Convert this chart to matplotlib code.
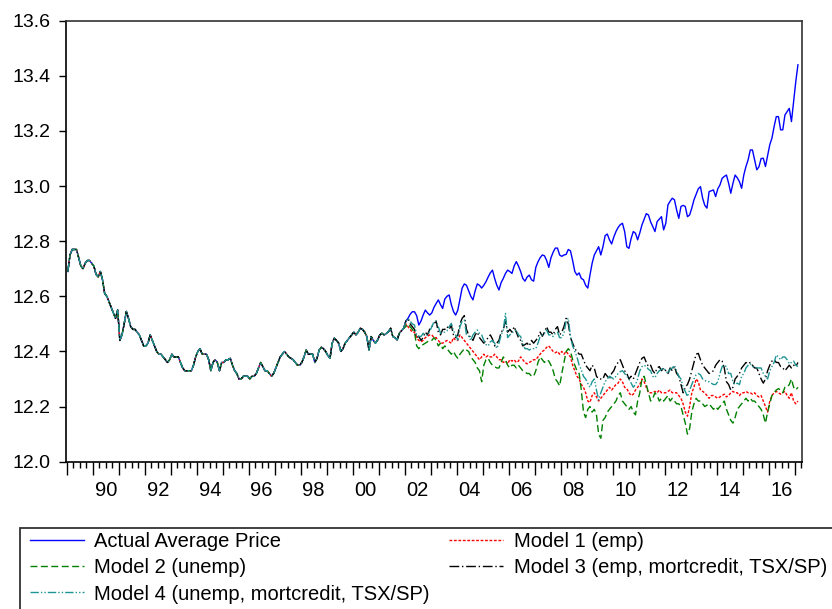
import numpy as np
import matplotlib
matplotlib.use('Agg')
import matplotlib.pyplot as plt
import matplotlib.patches as mpatches
from matplotlib.ticker import MultipleLocator, FormatStrFormatter

plt.rcParams['font.family'] = ['Liberation Sans', 'DejaVu Sans']

# monthly series, Jan 1989 .. Feb 2017
start_year = 1989
actual = [
    12.69, 12.75, 12.77, 12.77, 12.77, 12.74, 12.71, 12.70, 12.72, 12.73, 12.73, 12.72,
    12.71, 12.68, 12.67, 12.69, 12.66, 12.61, 12.60, 12.58, 12.56, 12.54, 12.52, 12.55,
    12.44, 12.46, 12.50, 12.545, 12.52, 12.49, 12.48, 12.48, 12.47, 12.46, 12.44, 12.42,
    12.42, 12.43, 12.46, 12.44, 12.42, 12.40, 12.39, 12.39, 12.38, 12.37, 12.36, 12.37,
    12.39, 12.38, 12.38, 12.38, 12.36, 12.34, 12.33, 12.33, 12.33, 12.33, 12.35, 12.38,
    12.40, 12.41, 12.39, 12.39, 12.39, 12.37, 12.33, 12.36, 12.37, 12.36, 12.33, 12.36,
    12.36, 12.37, 12.37, 12.375, 12.35, 12.33, 12.32, 12.30, 12.30, 12.31, 12.31, 12.31,
    12.30, 12.31, 12.31, 12.32, 12.34, 12.36, 12.345, 12.33, 12.33, 12.32, 12.31, 12.32,
    12.34, 12.36, 12.38, 12.39, 12.40, 12.39, 12.38, 12.375, 12.37, 12.36, 12.35, 12.35,
    12.36, 12.38, 12.405, 12.39, 12.39, 12.39, 12.36, 12.375, 12.405, 12.415, 12.41, 12.40,
    12.385, 12.375, 12.43, 12.448, 12.44, 12.43, 12.40, 12.41, 12.43, 12.44, 12.45, 12.46,
    12.47, 12.46, 12.47, 12.484, 12.48, 12.47, 12.454, 12.405, 12.454, 12.44, 12.43, 12.442,
    12.46, 12.466, 12.46, 12.465, 12.472, 12.484, 12.454, 12.45, 12.442, 12.466, 12.475, 12.484,
    12.51, 12.52, 12.535, 12.544, 12.544, 12.53, 12.496, 12.51, 12.532, 12.55, 12.54, 12.532,
    12.54, 12.56, 12.574, 12.587, 12.57, 12.556, 12.59, 12.60, 12.605, 12.57, 12.545, 12.532,
    12.55, 12.59, 12.63, 12.645, 12.64, 12.62, 12.60, 12.587, 12.62, 12.645, 12.64, 12.63,
    12.64, 12.653, 12.67, 12.685, 12.695, 12.665, 12.64, 12.623, 12.65, 12.665, 12.683, 12.695,
    12.69, 12.683, 12.71, 12.726, 12.71, 12.69, 12.665, 12.655, 12.67, 12.677, 12.66, 12.655,
    12.705, 12.725, 12.74, 12.75, 12.747, 12.73, 12.705, 12.74, 12.76, 12.775, 12.775, 12.75,
    12.745, 12.75, 12.752, 12.77, 12.765, 12.73, 12.69, 12.677, 12.685, 12.665, 12.66, 12.64,
    12.63, 12.677, 12.72, 12.75, 12.765, 12.78, 12.75, 12.78, 12.82, 12.826, 12.805, 12.79,
    12.815, 12.835, 12.85, 12.86, 12.865, 12.835, 12.78, 12.774, 12.81, 12.835, 12.829, 12.805,
    12.83, 12.859, 12.88, 12.90, 12.895, 12.87, 12.853, 12.835, 12.871, 12.88, 12.889, 12.841,
    12.865, 12.932, 12.945, 12.956, 12.95, 12.913, 12.883, 12.926, 12.93, 12.926, 12.889, 12.895,
    12.92, 12.95, 12.97, 12.99, 12.998, 12.956, 12.93, 12.92, 12.98, 12.983, 12.986, 12.962,
    12.99, 13.004, 13.028, 13.035, 13.04, 13.01, 12.974, 13.01, 13.04, 13.03, 13.016, 12.992,
    13.04, 13.071, 13.095, 13.131, 13.131, 13.095, 13.059, 13.07, 13.10, 13.101, 13.071, 13.11,
    13.15, 13.174, 13.216, 13.252, 13.252, 13.204, 13.204, 13.258, 13.27, 13.282, 13.234, 13.307,
    13.379, 13.44,
]

# model fits follow the actual series up to Dec 2001, forecasts from Jan 2002
forecast_start = 156
model1_fc = [
    12.50, 12.49, 12.48, 12.47, 12.47, 12.45, 12.44, 12.435, 12.44, 12.45, 12.455, 12.46,
    12.46, 12.45, 12.45, 12.44, 12.43, 12.43, 12.435, 12.44, 12.435, 12.43, 12.45, 12.44,
    12.44, 12.46, 12.45, 12.44, 12.43, 12.42, 12.41, 12.40, 12.39, 12.38, 12.37, 12.38,
    12.39, 12.38, 12.385, 12.38, 12.38, 12.39, 12.38, 12.37, 12.37, 12.36, 12.365, 12.355,
    12.37, 12.365, 12.37, 12.36, 12.365, 12.38, 12.37, 12.36, 12.355, 12.36, 12.365, 12.37,
    12.37, 12.38, 12.39, 12.40, 12.405, 12.415, 12.42, 12.41, 12.40, 12.395, 12.40, 12.39,
    12.40, 12.39, 12.40, 12.39, 12.38, 12.35, 12.33, 12.31, 12.30, 12.28, 12.27, 12.25,
    12.22, 12.215, 12.24, 12.25, 12.235, 12.22, 12.23, 12.24, 12.25, 12.26, 12.27, 12.26,
    12.27, 12.28, 12.285, 12.30, 12.29, 12.27, 12.265, 12.25, 12.24, 12.245, 12.26, 12.27,
    12.28, 12.30, 12.29, 12.27, 12.25, 12.25, 12.25, 12.255, 12.25, 12.26, 12.25, 12.25,
    12.25, 12.255, 12.26, 12.25, 12.25, 12.25, 12.24, 12.23, 12.21, 12.18, 12.165, 12.20,
    12.25, 12.27, 12.30, 12.29, 12.26, 12.255, 12.25, 12.24, 12.23, 12.24, 12.24, 12.235,
    12.23, 12.235, 12.24, 12.245, 12.235, 12.24, 12.25, 12.255, 12.25, 12.25, 12.24, 12.25,
    12.25, 12.255, 12.25, 12.25, 12.245, 12.25, 12.24, 12.235, 12.24, 12.22, 12.20, 12.18,
    12.22, 12.24, 12.25, 12.255, 12.25, 12.245, 12.25, 12.255, 12.24, 12.23, 12.25, 12.22,
    12.21, 12.22,
]
model2_fc = [
    12.49, 12.50, 12.49, 12.48, 12.47, 12.42, 12.41, 12.42, 12.425, 12.43, 12.435, 12.44,
    12.44, 12.45, 12.44, 12.42, 12.43, 12.41, 12.42, 12.41, 12.40, 12.39, 12.40, 12.385,
    12.375, 12.39, 12.40, 12.41, 12.405, 12.40, 12.38, 12.37, 12.36, 12.34, 12.33, 12.29,
    12.35, 12.37, 12.375, 12.36, 12.35, 12.345, 12.34, 12.34, 12.36, 12.38, 12.37, 12.35,
    12.34, 12.35, 12.35, 12.34, 12.35, 12.34, 12.33, 12.325, 12.32, 12.32, 12.31, 12.31,
    12.33, 12.36, 12.38, 12.37, 12.36, 12.37, 12.365, 12.35, 12.33, 12.30, 12.29, 12.275,
    12.32, 12.36, 12.40, 12.41, 12.40, 12.37, 12.35, 12.33, 12.32, 12.26, 12.18, 12.16,
    12.19, 12.20, 12.18, 12.19, 12.17, 12.10, 12.085, 12.15, 12.16, 12.18, 12.19, 12.20,
    12.21, 12.22, 12.24, 12.25, 12.22, 12.21, 12.20, 12.19, 12.20, 12.18, 12.17, 12.22,
    12.25, 12.30, 12.31, 12.28, 12.25, 12.22, 12.23, 12.25, 12.24, 12.22, 12.23, 12.22,
    12.23, 12.24, 12.22, 12.23, 12.22, 12.21, 12.21, 12.20, 12.17, 12.14, 12.10, 12.12,
    12.18, 12.21, 12.23, 12.22, 12.22, 12.21, 12.20, 12.205, 12.21, 12.20, 12.19, 12.20,
    12.19, 12.20, 12.21, 12.22, 12.19, 12.17, 12.15, 12.14, 12.16, 12.19, 12.20, 12.21,
    12.22, 12.23, 12.22, 12.23, 12.22, 12.22, 12.21, 12.20, 12.19, 12.17, 12.14, 12.18,
    12.21, 12.24, 12.25, 12.26, 12.265, 12.26, 12.25, 12.27, 12.27, 12.28, 12.30, 12.27,
    12.26, 12.27,
]
model3_fc = [
    12.51, 12.52, 12.50, 12.49, 12.48, 12.45, 12.455, 12.44, 12.45, 12.47, 12.46, 12.48,
    12.49, 12.50, 12.51, 12.47, 12.46, 12.48, 12.48, 12.49, 12.48, 12.495, 12.46, 12.45,
    12.46, 12.50, 12.52, 12.53, 12.48, 12.46, 12.45, 12.44, 12.46, 12.47, 12.45, 12.44,
    12.43, 12.44, 12.45, 12.46, 12.445, 12.42, 12.43, 12.44, 12.47, 12.48, 12.51, 12.47,
    12.48, 12.47, 12.49, 12.47, 12.45, 12.44, 12.42, 12.425, 12.43, 12.42, 12.44, 12.43,
    12.44, 12.45, 12.47, 12.455, 12.47, 12.49, 12.47, 12.47, 12.46, 12.48, 12.49, 12.46,
    12.47, 12.49, 12.52, 12.50, 12.45, 12.43, 12.41, 12.40, 12.39, 12.39, 12.37, 12.35,
    12.34, 12.33, 12.35, 12.34, 12.31, 12.30, 12.30, 12.30, 12.32, 12.31, 12.30, 12.32,
    12.33, 12.35, 12.36, 12.37, 12.35, 12.33, 12.32, 12.30, 12.31, 12.30, 12.32, 12.34,
    12.36, 12.375, 12.38, 12.36, 12.345, 12.35, 12.33, 12.32, 12.34, 12.345, 12.33, 12.34,
    12.33, 12.32, 12.34, 12.33, 12.345, 12.32, 12.31, 12.28, 12.25, 12.27, 12.28, 12.30,
    12.33, 12.36, 12.39, 12.393, 12.37, 12.35, 12.34, 12.33, 12.32, 12.325, 12.33, 12.35,
    12.36, 12.37, 12.365, 12.34, 12.29, 12.28, 12.26, 12.27, 12.30, 12.31, 12.32, 12.34,
    12.35, 12.36, 12.355, 12.36, 12.35, 12.34, 12.34, 12.32, 12.30, 12.285, 12.30, 12.33,
    12.35, 12.365, 12.37, 12.36, 12.36, 12.345, 12.34, 12.33, 12.34, 12.35, 12.34, 12.35,
    12.345, 12.36,
]
model4_fc = [
    12.51, 12.52, 12.51, 12.50, 12.496, 12.46, 12.455, 12.454, 12.466, 12.46, 12.46, 12.472,
    12.49, 12.508, 12.51, 12.49, 12.466, 12.47, 12.47, 12.475, 12.49, 12.502, 12.475, 12.46,
    12.441, 12.49, 12.51, 12.514, 12.46, 12.455, 12.44, 12.46, 12.47, 12.478, 12.466, 12.46,
    12.44, 12.425, 12.42, 12.435, 12.44, 12.43, 12.411, 12.43, 12.46, 12.478, 12.538, 12.45,
    12.46, 12.466, 12.475, 12.478, 12.46, 12.454, 12.43, 12.41, 12.41, 12.405, 12.41, 12.41,
    12.41, 12.43, 12.454, 12.46, 12.465, 12.478, 12.46, 12.46, 12.454, 12.466, 12.47, 12.45,
    12.45, 12.466, 12.51, 12.52, 12.454, 12.42, 12.40, 12.38, 12.35, 12.333, 12.31, 12.30,
    12.284, 12.27, 12.29, 12.30, 12.26, 12.224, 12.25, 12.27, 12.29, 12.30, 12.31, 12.305,
    12.30, 12.31, 12.32, 12.327, 12.33, 12.32, 12.31, 12.30, 12.285, 12.27, 12.28, 12.30,
    12.33, 12.345, 12.35, 12.345, 12.335, 12.33, 12.31, 12.305, 12.32, 12.33, 12.335, 12.34,
    12.33, 12.32, 12.335, 12.34, 12.35, 12.33, 12.31, 12.30, 12.27, 12.255, 12.236, 12.26,
    12.28, 12.30, 12.315, 12.32, 12.315, 12.30, 12.295, 12.29, 12.29, 12.285, 12.28, 12.28,
    12.29, 12.32, 12.345, 12.35, 12.345, 12.32, 12.32, 12.29, 12.28, 12.285, 12.28, 12.31,
    12.32, 12.34, 12.35, 12.355, 12.345, 12.345, 12.34, 12.34, 12.34, 12.32, 12.31, 12.30,
    12.33, 12.345, 12.36, 12.387, 12.38, 12.37, 12.38, 12.38, 12.37, 12.355, 12.36, 12.365,
    12.35, 12.345,
]

labels = ['Actual Average Price', 'Model 1 (emp)', 'Model 2 (unemp)',
          'Model 3 (emp, mortcredit, TSX/SP)', 'Model 4 (unemp, mortcredit, TSX/SP)']

actual = np.array(actual)
months = np.arange(len(actual))
dates = start_year + (months + 0.5) / 12.0
fitted = actual[:forecast_start]
models = [np.concatenate([fitted, fc]) for fc in (model1_fc, model2_fc, model3_fc, model4_fc)]

fig = plt.figure(figsize=(8.32, 6.09), dpi=100)
ax = fig.add_axes([0.079, 0.2419, 0.8846, 0.7241])

styles = [
    dict(color='#0000ff', linestyle='-'),
    dict(color='#ff0000', linestyle=(0, (2, 1.2))),
    dict(color='#008000', linestyle=(0, (5, 2.5))),
    dict(color='#000000', linestyle=(0, (7, 2, 1, 2))),
    dict(color='#1f9494', linestyle=(0, (6, 1.5, 1, 1.5, 1, 1.5))),
]
series = [actual] + models
handles = []
for vals, st, lab in zip(series, styles, labels):
    h, = ax.plot(dates, vals, lw=1.0, label=lab, **st)
    handles.append(h)

ax.set_xlim(1988.96, 2017.27)
ax.set_ylim(12.0, 13.6)
ax.yaxis.set_major_locator(MultipleLocator(0.2))
ax.yaxis.set_major_formatter(FormatStrFormatter('%.1f'))
ax.xaxis.set_major_locator(MultipleLocator(1))
ax.xaxis.set_minor_locator(MultipleLocator(0.25))
ax.xaxis.set_major_formatter(plt.NullFormatter())
ax.tick_params(axis='y', direction='out', length=5, width=1, labelsize=14, pad=6)
ax.tick_params(axis='x', which='major', direction='out', length=9, width=1)
ax.tick_params(axis='x', which='minor', direction='out', length=4, width=1)
for sp in ax.spines.values():
    sp.set_linewidth(1.2)
ax.spines['top'].set_color('#333333')
ax.spines['right'].set_color('#333333')

for yr in range(1990, 2017, 2):
    ax.text(yr + 0.5, -0.043, f'{yr % 100:02d}', transform=ax.get_xaxis_transform(),
            ha='center', va='top', fontsize=14.5)

# legend box runs off the figure edge like the original
fig.patches.append(mpatches.Rectangle((20 / 832, -0.05), 1.0, 0.05 + 81 / 609,
                                      transform=fig.transFigure, fill=False,
                                      edgecolor='#333333', linewidth=1.3))
order = [0, 2, 4, 1, 3]
fig.legend([handles[i] for i in order], [labels[i] for i in order], ncol=2,
           loc='upper left', bbox_to_anchor=(30 / 832, 1 - 532 / 609), frameon=False,
           fontsize=14.5, handlelength=2.7, handletextpad=0.5, columnspacing=0.95,
           labelspacing=0.36, borderpad=0, borderaxespad=0)

fig.savefig('out.png', dpi=100)
